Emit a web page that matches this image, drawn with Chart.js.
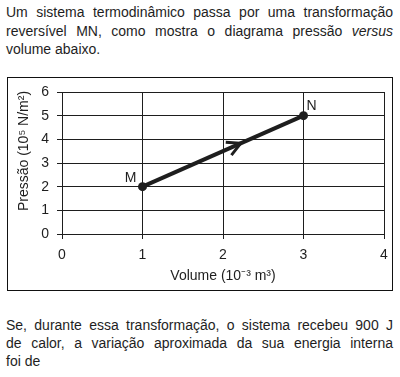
<!DOCTYPE html>
<html>
<head>
<meta charset="utf-8">
<script src="https://cdn.jsdelivr.net/npm/chart.js@4/dist/chart.umd.min.js"></script>
<style>
  body { margin: 0; background: #fff; width: 400px; height: 377px; position: relative; font-family: "Liberation Sans", Arial, sans-serif; color: #1e1e1e; }
  .txt { position: absolute; left: 6px; width: 387px; font-size: 14px; }
  .txt div { text-align: justify; text-align-last: justify; white-space: nowrap; }
  .txt div.last { text-align-last: left; }
  #top { top: 3px; line-height: 18.5px; }
  #bottom { top: 316px; line-height: 18px; }
  #box { position: absolute; left: 7px; top: 77px; width: 386px; height: 214px; box-sizing: border-box; border: 1px solid #111; }
  #chart { position: absolute; left: 8px; top: 78px; }
</style>
</head>
<body>
<div class="txt" id="top">
  <div>Um sistema termodinâmico passa por uma transformação</div>
  <div>reversível MN, como mostra o diagrama pressão <i>versus</i></div>
  <div class="last">volume abaixo.</div>
</div>
<div id="box"></div>
<canvas id="chart" width="384" height="212"></canvas>
<div class="txt" id="bottom">
  <div>Se, durante essa transformação, o sistema recebeu 900 J</div>
  <div>de calor, a variação aproximada da sua energia interna</div>
  <div class="last">foi de</div>
</div>
<script>
// dados do diagrama P x V
const volume = [1, 3];        // 10^-3 m^3
const pressao = [2, 5];       // 10^5 N/m^2
const pointLabels = ['M', 'N'];
const xTicks = [0, 1, 2, 3, 4];
const yTicks = [0, 1, 2, 3, 4, 5, 6];
const arrowAt = 0.61;          // posição da seta ao longo de MN
const yTitle = 'Pressão (10⁵ N/m²)';
const xTitle = 'Volume (10⁻³ m³)';

const ink = '#1e1e1e';
const font = { family: '"Liberation Sans", Arial, sans-serif', size: 14 };

// seta, letras M / N e título do eixo y
const extras = {
  id: 'extras',
  afterDatasetsDraw(chart) {
    const ctx = chart.ctx;
    const xs = chart.scales.x, ys = chart.scales.y;
    const px = volume.map(v => xs.getPixelForValue(v));
    const py = pressao.map(v => ys.getPixelForValue(v));

    const tx = px[0] + (px[1] - px[0]) * arrowAt;
    const ty = py[0] + (py[1] - py[0]) * arrowAt;
    const back = Math.atan2(py[0] - py[1], px[0] - px[1]);
    const len = 15, spread = 28 * Math.PI / 180;
    ctx.save();
    ctx.strokeStyle = ink;
    ctx.lineWidth = 3;
    ctx.beginPath();
    ctx.moveTo(tx + len * Math.cos(back + spread), ty + len * Math.sin(back + spread));
    ctx.lineTo(tx, ty);
    ctx.lineTo(tx + len * Math.cos(back - spread), ty + len * Math.sin(back - spread));
    ctx.stroke();

    ctx.fillStyle = ink;
    ctx.font = '14px ' + font.family;
    ctx.textAlign = 'center';
    ctx.textBaseline = 'middle';
    ctx.fillText(pointLabels[0], px[0] - 12, py[0] - 9);
    ctx.fillText(pointLabels[1], px[1] + 8, py[1] - 10);

    // título y um pouco acima do centro, como no original
    const a = chart.chartArea;
    ctx.translate(16, (a.top + a.bottom) / 2 - 12);
    ctx.rotate(-Math.PI / 2);
    ctx.fillText(yTitle, 0, 0);
    ctx.restore();
  }
};

new Chart(document.getElementById('chart'), {
  type: 'scatter',
  data: {
    datasets: [{
      data: volume.map((v, i) => ({ x: v, y: pressao[i] })),
      showLine: true,
      borderColor: ink,
      borderWidth: 4,
      pointRadius: 4.5,
      pointBackgroundColor: ink,
      pointBorderWidth: 0
    }]
  },
  options: {
    responsive: false,
    animation: false,
    layout: { padding: { top: 14, right: 8, left: 0, bottom: 0 } },
    plugins: { legend: { display: false }, tooltip: { enabled: false } },
    scales: {
      x: {
        type: 'linear',
        min: 0, max: 4,
        afterBuildTicks: s => { s.ticks = xTicks.map(v => ({ value: v })); },
        afterFit: s => { s.height = 56; s.paddingLeft = 0; s.paddingRight = 0; },
        grid: { color: ink, lineWidth: 1, tickLength: 5 },
        border: { color: ink, width: 1 },
        ticks: { color: ink, font: font, padding: 8 },
        title: { display: true, text: xTitle, color: ink, font: font, padding: { top: 0, bottom: 5 } }
      },
      y: {
        min: 0, max: 6,
        afterBuildTicks: s => { s.ticks = yTicks.map(v => ({ value: v })); },
        afterFit: s => { s.width = 54; s.paddingTop = 0; s.paddingBottom = 0; },
        grid: { color: ink, lineWidth: 1, tickLength: 5 },
        border: { color: ink, width: 1 },
        ticks: { color: ink, font: font, padding: 8 }
      }
    }
  },
  plugins: [extras]
});
</script>
</body>
</html>
